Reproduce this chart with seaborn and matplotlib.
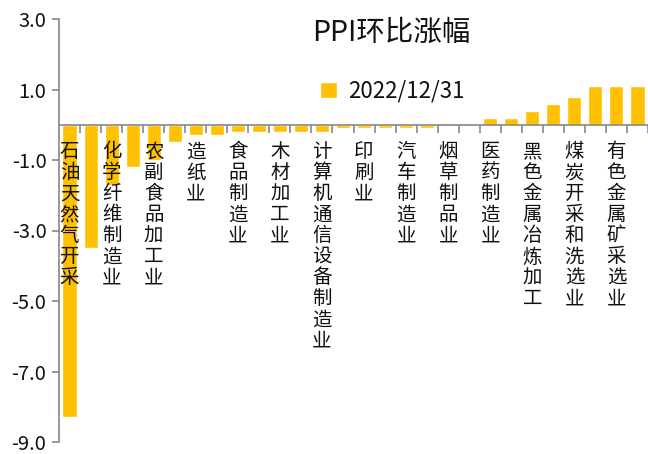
import matplotlib
matplotlib.use("Agg")
import matplotlib.pyplot as plt
import seaborn as sns
import pandas as pd
import numpy as np

# ---- data ----
labels = ["石油天然气开采", "", "化学纤维制造业", "", "农副食品加工业", "", "造纸业", "",
          "食品制造业", "", "木材加工业", "", "计算机通信设备制造业", "", "印刷业", "",
          "汽车制造业", "", "烟草制品业", "", "医药制造业", "", "黑色金属冶炼加工", "",
          "煤炭开采和洗选业", "", "有色金属矿采选业", ""]
values = [-8.3, -3.5, -1.7, -1.2, -1.0, -0.5, -0.3, -0.3,
          -0.2, -0.2, -0.2, -0.2, -0.2, -0.1, -0.1, -0.1,
          -0.1, -0.1, 0.0, 0.0, 0.2, 0.2, 0.4, 0.6,
          0.8, 1.1, 1.1, 1.1]
series_name = "2022/12/31"
title = "PPI环比涨幅"
yticks = [3.0, 1.0, -1.0, -3.0, -5.0, -7.0, -9.0]

sns.set_theme(style="white")
plt.rcParams['font.family'] = ['Noto Sans CJK SC', 'DejaVu Sans']

df = pd.DataFrame({"pos": list(range(len(values))), "value": values, "series": series_name})

fig = plt.figure(figsize=(6.48, 4.54), dpi=100)
ax = fig.add_axes([59/648, 12/454, 589/648, 423/454])

sns.barplot(data=df, x="pos", y="value", hue="series", palette=["#FFC000"],
            width=0.67, ax=ax, saturation=1)
ax.set_axisbelow(False)

ax.set_ylim(-9, 3)
ax.set_xlim(-0.5, len(values) - 0.5)
ax.set_yticks(yticks)
ax.set_yticklabels([f"{v:.1f}" for v in yticks], fontsize=14.5, color="#111111")

for s in ["top", "right"]:
    ax.spines[s].set_visible(False)
ax.spines["bottom"].set_position(("data", 0))
for s in ["left", "bottom"]:
    ax.spines[s].set_color("#888888")
    ax.spines[s].set_linewidth(1.2)

ax.tick_params(axis="y", which="major", left=True, length=5, color="#888888", width=1.2, pad=4)

# labels at centers, tick marks at boundaries
ax.set_xticks(range(len(values)))
ax.set_xticklabels(["\n".join(l) for l in labels], fontsize=14, linespacing=1.0,
                   va="top", color="#111111")
ax.tick_params(axis="x", which="major", length=0, pad=12)
ax.set_xticks(np.arange(0.5, len(values), 1.0), minor=True)
ax.tick_params(axis="x", which="minor", bottom=True, length=6, color="#888888", width=1.2)

ax.set_xlabel("")
ax.set_ylabel("")

ax.text(0.565, 0.968, title, transform=ax.transAxes, ha="center", va="center",
        fontsize=20.5, color="#111111")

leg = ax.legend(loc="center left", bbox_to_anchor=(0.41, 0.83), frameon=False, fontsize=16,
                handlelength=0.75, handleheight=0.75, handletextpad=0.5)
for t in leg.get_texts():
    t.set_color("#111111")

fig.savefig("out.png", dpi=100)
